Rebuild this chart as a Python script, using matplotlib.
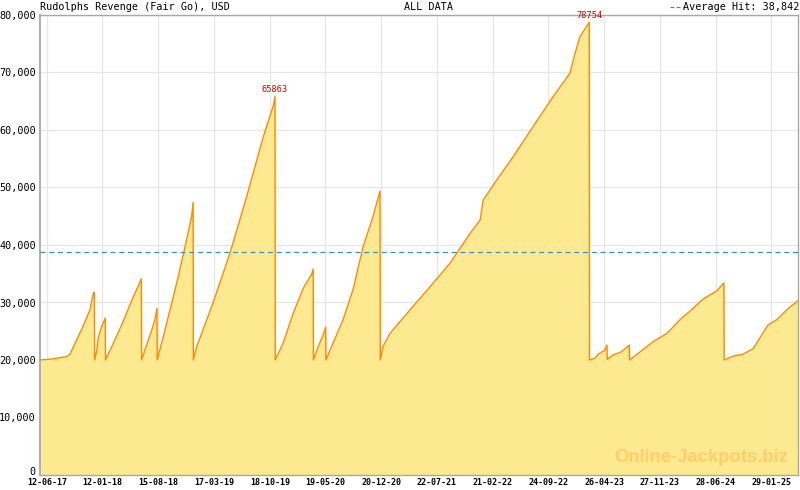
import matplotlib
matplotlib.use("Agg")
import matplotlib.pyplot as plt
import matplotlib.dates as mdates
import matplotlib.transforms as mtransforms
from matplotlib.lines import Line2D
import numpy as np
import datetime as dt

# ---------------- data ----------------
dates = [
    "2017-05-17", "2017-07-06", "2017-08-28", "2017-09-09", "2017-10-05", "2017-10-31",
    "2017-11-25", "2017-12-08", "2017-12-12",
    "2017-12-13", "2017-12-21", "2017-12-27", "2018-01-09", "2018-01-23",
    "2018-01-24", "2018-02-23", "2018-04-02", "2018-05-11", "2018-06-06", "2018-06-11",
    "2018-06-12", "2018-07-01", "2018-07-21", "2018-08-02", "2018-08-10",
    "2018-08-11", "2018-09-03", "2018-10-12", "2018-11-06", "2018-12-02", "2018-12-21", "2018-12-27",
    "2018-12-28", "2019-01-10", "2019-03-15", "2019-05-18", "2019-07-21", "2019-09-23",
    "2019-11-01", "2019-11-07",
    "2019-11-08", "2019-12-08", "2020-01-16", "2020-02-24", "2020-03-27", "2020-04-02",
    "2020-04-03", "2020-04-21", "2020-05-10", "2020-05-20",
    "2020-05-21", "2020-06-17", "2020-07-26", "2020-09-02", "2020-10-11", "2020-11-18", "2020-12-15",
    "2020-12-16", "2020-12-26", "2021-01-22", "2021-04-09", "2021-06-25", "2021-09-10",
    "2021-11-26", "2022-01-04", "2022-01-16", "2022-03-09", "2022-05-12", "2022-07-27",
    "2022-10-12", "2022-12-16", "2023-01-04", "2023-01-23", "2023-02-28",
    "2023-03-01", "2023-03-22", "2023-04-03", "2023-04-29", "2023-05-07",
    "2023-05-08", "2023-05-31", "2023-06-26", "2023-07-15", "2023-08-01",
    "2023-08-02", "2023-09-11", "2023-11-01", "2023-12-23", "2024-02-12", "2024-04-03",
    "2024-05-11", "2024-07-02", "2024-07-30",
    "2024-07-31", "2024-09-04", "2024-10-12", "2024-11-20", "2024-12-15", "2025-01-16",
    "2025-02-18", "2025-03-15", "2025-04-10", "2025-05-11",
]
values = [
    20000, 20200, 20600, 21000, 23500, 26000,
    28700, 31600, 31800,
    20000, 21500, 23800, 25800, 27300,
    20000, 22900, 26700, 31000, 33600, 34100,
    20000, 22600, 25200, 27000, 29000,
    20000, 24000, 31000, 35700, 40900, 44900, 47400,
    20000, 22300, 30100, 38600, 48400, 58800,
    64300, 65863,
    20000, 22900, 28100, 32500, 34900, 35800,
    20000, 22300, 24300, 25700,
    20000, 22900, 27000, 32200, 39700, 44900, 49400,
    20000, 22300, 24600, 28700, 32700, 36800,
    42000, 44300, 47800, 51300, 55400, 60600,
    65800, 69900, 73300, 76200, 78754,
    20000, 20300, 21000, 21700, 22600,
    20100, 20900, 21300, 21900, 22600,
    20000, 21400, 23200, 24600, 27000, 29000,
    30600, 32000, 33400,
    20000, 20700, 21000, 22000, 23800, 26100,
    27000, 28100, 29200, 30300,
]
labeled_peaks = [65863, 78754]
average_hit = 38842
x_tick_labels = ["12-06-17", "12-01-18", "15-08-18", "17-03-19", "18-10-19", "19-05-20",
                 "20-12-20", "22-07-21", "21-02-22", "24-09-22", "26-04-23", "27-11-23",
                 "28-06-24", "29-01-25"]
y_ticks = [0, 10000, 20000, 30000, 40000, 50000, 60000, 70000, 80000]

title_left = "Rudolphs Revenge (Fair Go), USD"
title_mid = "ALL DATA"
legend_text = "Average Hit: 38,842"
watermark = "Online-Jackpots.biz"

# ---------------- style ----------------
FILL = "#fde98f"
LINE = "#ff8a00"
GRID = "#e6e6e6"
SPINE = "#a8a8a8"
AVG = "#3a8fc8"
MONO = "DejaVu Sans Mono"

x = [dt.datetime.strptime(d, "%Y-%m-%d") for d in dates]
xn = mdates.date2num(x)

fig = plt.figure(figsize=(8, 4.9), dpi=100)
ax = fig.add_axes([40 / 800, 1 - 475 / 490, 758 / 800, 460 / 490])

ax.fill_between(xn, values, 0, color=FILL, linewidth=0, zorder=2)
ax.plot(xn, values, color=LINE, linewidth=1.0, zorder=3)
ax.axhline(average_hit, color=AVG, linestyle=(0, (4, 3)), linewidth=0.9, zorder=4)

ax.set_xlim(xn[0], xn[-1])
ax.set_ylim(0, 80000)

# ticks
major = [mdates.date2num(dt.datetime.strptime(t, "%d-%m-%y")) for t in x_tick_labels]
ax.set_xticks(major)
ax.set_xticklabels(x_tick_labels)
step = (major[-1] - major[0]) / (len(major) - 1) / 7.0
minor = np.arange(major[0] - 7 * step, major[-1] + 7 * step, step)
minor = [m for m in minor if xn[0] <= m <= xn[-1]]
ax.set_xticks(minor, minor=True)

ax.set_yticks(y_ticks)
ax.set_yticklabels([f"{v:,}" for v in y_ticks])

ax.tick_params(axis="x", which="major", direction="in", length=3.8, width=0.8,
               color=SPINE, pad=2.5, labelsize=6.0)
ax.tick_params(axis="x", which="minor", direction="in", length=2.0, width=0.8, color=SPINE)
ax.tick_params(axis="y", length=0, pad=3, labelsize=7.3)
for lab in ax.get_xticklabels():
    lab.set_fontfamily(MONO)
    lab.set_fontweight("bold")
for lab in ax.get_yticklabels():
    lab.set_fontfamily(MONO)
# lift the "0" label slightly, as in the reference
zero_lab = ax.get_yticklabels()[0]
zero_lab.set_transform(zero_lab.get_transform() +
                       mtransforms.ScaledTranslation(0, 3 / 72, fig.dpi_scale_trans))

ax.grid(True, which="major", color=GRID, linewidth=0.9, zorder=0)
ax.set_axisbelow(True)
for s in ax.spines.values():
    s.set_color(SPINE)
    s.set_linewidth(1.0)
ax.spines["left"].set_linewidth(1.3)

# peak labels
for px, pv in zip(xn, values):
    if pv in labeled_peaks:
        ax.annotate(str(pv), (px, pv), xytext=(0, 1.5), textcoords="offset points",
                    ha="center", va="bottom", color="#cc0000", fontsize=6.2,
                    fontfamily=MONO, zorder=5, annotation_clip=False)

# watermark
ax.text(0.987, 0.038, watermark, transform=ax.transAxes, ha="right", va="center",
        fontsize=13.3, fontweight="bold", family="Liberation Sans", color="#ffc966",
        alpha=0.85, zorder=6)

# header texts
fig.text(40 / 800, 1 - 7.5 / 490, title_left, ha="left", va="center",
         fontsize=7.3, family=MONO)
fig.text(429 / 800, 1 - 7.5 / 490, title_mid, ha="center", va="center",
         fontsize=7.3, family=MONO)
fig.text(799 / 800, 1 - 7.5 / 490, legend_text, ha="right", va="center",
         fontsize=7.3, family=MONO)
fig.add_artist(Line2D([670 / 800, 684 / 800], [1 - 7.5 / 490, 1 - 7.5 / 490],
                      color=AVG, linestyle=(0, (3, 2)), linewidth=0.9,
                      transform=fig.transFigure))

fig.savefig("out.png", dpi=100)
